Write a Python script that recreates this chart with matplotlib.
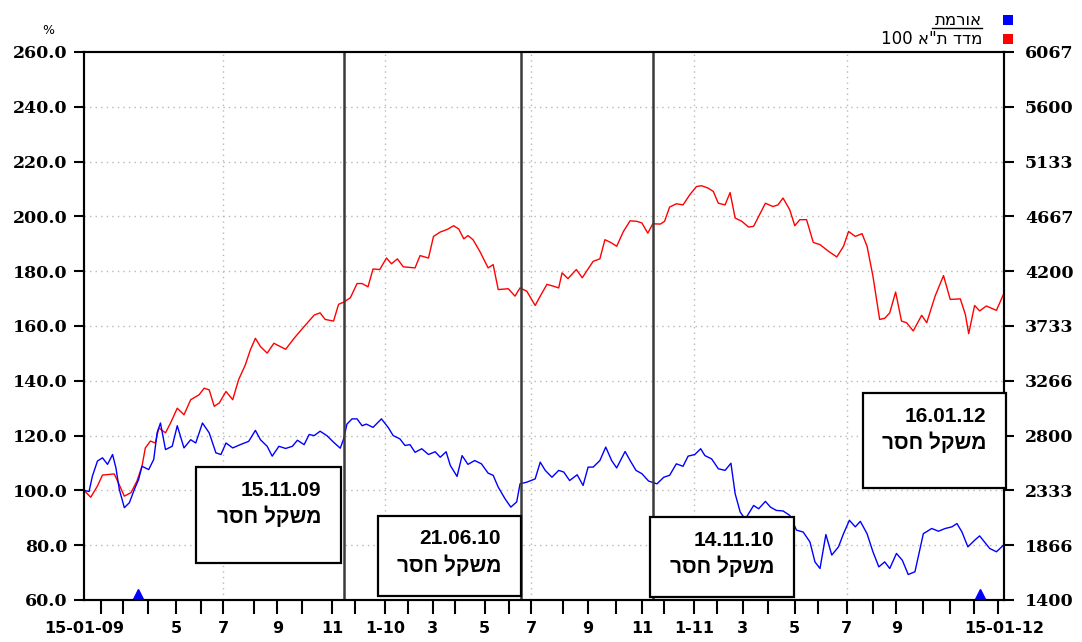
import re
import numpy as np
import matplotlib
matplotlib.use('Agg')
import matplotlib.pyplot as plt
from matplotlib.patches import Rectangle
from matplotlib.lines import Line2D

W, H = 1082, 642

# time axis of the chart: 0 = 15-01-09, 1095 = 15-01-12 (positions)
x_end = 1095

red_days = [0, 8, 16, 22, 36, 40, 48, 56, 63, 69, 73, 79, 85, 89, 97, 103, 111, 119, 127, 137,
            143, 149, 155, 161, 169, 177, 184, 192, 198, 204, 210, 218, 226, 240, 250, 262, 274,
            281, 287, 297, 303, 309, 317, 325, 331, 338, 344, 352, 360, 366, 373, 380, 394, 400, 410,
            416, 424, 432, 440, 446, 452, 457, 463, 471, 481, 487, 493, 505, 513, 519,
            527, 537, 543, 551, 559, 565, 569, 576, 586, 593, 602, 606, 614, 620, 628, 634, 642, 650,
            658, 664, 671, 677, 686, 691, 697, 705, 713, 721, 729, 735, 743, 749, 755, 763, 769, 775,
            783, 791, 797, 805,
            811, 820, 826, 832, 840, 846, 852, 860, 868, 876, 886, 896, 904, 910, 918, 926, 932, 939,
            947, 953, 959, 966, 973, 979, 987, 997, 1003, 1013, 1023, 1031, 1043, 1049, 1053, 1060,
            1066, 1074, 1086, 1095]
red_vals = [100, 97.5, 101.6, 105.6, 106, 103.4, 97.9, 99.2, 103.4, 108.8, 115.5, 118, 117.3, 122.8,
            121, 124.6, 130, 127.6, 133.1, 134.9, 137.3, 136.7, 130.7, 131.9, 136.1, 133.1, 140.4,
            145.8, 151.3, 155.5, 152.5, 150.1, 153.7, 151.5, 155.5, 159.8, 164,
            164.8, 162.4, 161.8, 167.9, 168.7, 170.3, 175.5, 175.5, 174.3, 180.8, 180.6, 184.8, 182.7,
            184.5, 181.6, 181.2, 185.7, 184.8, 192.7, 194.3, 195.2, 196.6, 195.4, 191.8, 193, 191.5,
            187.3, 181.2, 182.4, 173.3, 173.6, 170.9, 173.9,
            172.7, 167.5, 170.9, 175.2, 174.5, 173.9, 179.4, 177.3, 180.6, 177.6, 181.8, 183.6, 184.5,
            191.5, 190.3, 189.1, 194.5, 198.4, 198.2, 197.6, 193.9, 197.3, 197.2, 198.2, 203.4, 204.6,
            204.2, 207.9, 210.9, 211.2, 210.3, 209.1, 204.8, 204.2, 208.7, 199.4, 198.2, 196.1, 196.4,
            201.2,
            204.8, 203.6, 204.2, 206.7, 202.4, 196.6, 198.8, 198.8, 190.5, 189.7, 187.3, 185.2, 189.1,
            194.5, 192.7, 193.7, 189.1, 178.2, 162.4, 162.8, 164.8, 172.4, 161.8, 161.2, 158.2, 163.9,
            161.2, 170.9, 178.4, 169.7, 169.9, 164.2, 157.2, 167.5, 165.5, 167.3, 165.7, 172]

blue_days = [0, 6, 10, 16, 22, 28, 34, 38, 42, 48, 54, 60, 65, 69, 77, 83, 87, 91, 97, 105,
             111, 119, 127, 133, 141, 149, 157, 163, 169, 177, 186, 196, 204, 210, 218, 224, 232, 240,
             248, 254, 262, 268, 274,
             281, 289, 297, 305, 309, 313, 319, 325, 331, 336, 344, 354, 362, 368, 376, 382, 388, 394,
             402, 410, 418, 424, 431, 436, 444, 450, 457, 465, 473, 481, 487, 493, 501, 508, 515, 519,
             527, 537, 543, 549, 557, 565, 571, 578, 587, 594, 600, 606, 614, 621, 628, 634, 644, 650,
             657, 664, 672, 682, 690, 697, 705, 713, 719, 727, 734, 739, 747, 755, 763, 770, 775, 781,
             787, 797, 803,
             811, 817, 824, 832, 840, 848, 856, 864, 870, 876, 883, 890, 898, 904, 911, 918, 924, 932,
             939, 946, 953, 959, 967, 974, 981, 989, 999, 1009, 1017, 1025, 1033, 1039, 1045, 1052,
             1060, 1066, 1078, 1086, 1095]
blue_vals = [100, 99.6, 105.2, 110.7, 111.9, 109.5, 113.1, 108.2, 100.4, 93.7, 95.5, 100.4, 104, 108.8,
             107.6, 111.3, 121, 124.6, 114.9, 116.1, 123.6, 115.5, 118.5, 117.3, 124.6, 121, 113.7,
             113.1, 117.3, 115.5, 116.7, 117.9, 121.9, 118.5, 116.1, 112.5, 116.1, 115.3, 116.1, 118.3,
             116.7, 120.4, 120,
             121.6, 120, 117.6, 115.4, 118.8, 124.2, 126.1, 126.1, 123.6, 124.2, 123, 126.1, 123, 120,
             118.8, 116.4, 116.7, 113.9, 115.2, 113.1, 114.1, 112.1, 114.1, 109.1, 105.1, 112.7, 109.5,
             110.9, 109.7, 106.3, 105.5, 101.2, 97, 93.9, 95.8, 102.4,
             103, 104.2, 110.3, 107.3, 104.8, 107.3, 106.7, 103.6, 105.7, 101.8, 108.5, 108.5, 110.9,
             115.8, 110.9, 108.2, 114.2, 110.9, 107.3, 106.1, 103.4, 102.4, 104.8, 105.5, 109.7, 108.8,
             112.5, 113.1, 115.2, 112.7, 111.5, 107.9, 107.3, 109.9, 98.8, 92.1, 89.5, 94.5, 93.3,
             96, 93.9, 92.7, 92.5, 90.9, 85.5, 84.8, 81.2, 73.9, 71.5, 83.9, 76.4, 79.4, 84.2, 89.1,
             86.7, 88.7, 84.2, 77.6, 72.1, 73.9, 71.5, 77, 74.5, 69.3, 70.3, 84.2, 86.1, 85.1, 86.1,
             86.7, 87.9, 84.8, 79.4, 81.8, 83.4, 78.8, 77.6, 80.2]

marker_days = [64, 1066]
marker_vals = [62, 62]

# 15.11.09, 21.06.10, 14.11.10 on the chart's time axis
event_days = [309.5, 520, 677]
event_texts = ['15.11.09', '21.06.10', '14.11.10', '16.01.12']
event_note = 'משקל חסר'

# first of each month, Feb 2009 .. Jan 2012
month_days = [20, 46, 76, 110, 139, 166, 202, 230, 259, 295, 322, 358,
              386, 415, 442, 477, 506, 532, 570, 600, 633, 664, 690, 726,
              754, 784, 814, 846, 874, 908, 939, 967, 998, 1031, 1059, 1088]
grid_days = [166, 358, 532, 726, 908]
xtick_days = [0, 110, 166, 230, 295, 358, 415, 477, 532, 600, 664, 726, 784, 846, 908, 967, 1095]
xtick_labels = ['15-01-09', '5', '7', '9', '11', '1-10', '3', '5', '7', '9', '11', '1-11',
                '3', '5', '7', '9', '15-01-12']
left_ticks = [60, 80, 100, 120, 140, 160, 180, 200, 220, 240, 260]
right_labels = ['1400', '1866', '2333', '2800', '3266', '3733', '4200', '4667', '5133', '5600', '6067']

legend_names = ['אורמת', 'מדד ת"א 100']
legend_colors = ['#0000ff', '#ff0000']


def rtl(s):
    # matplotlib has no bidi: reverse hebrew runs, keep numbers as they are
    parts = re.split(r'(\d+)', s)
    parts = [p if p.isdigit() else p[::-1] for p in parts]
    return ''.join(parts[::-1])


def fx(x):
    return x / W


def fy(y):
    return 1 - y / H


fig = plt.figure(figsize=(W / 100, H / 100), dpi=100)
ax = fig.add_axes([fx(84), fy(600), (1004 - 84) / W, (600 - 52) / H])

ax.plot(red_days, red_vals, color='#ff0000', lw=1.0, zorder=3)
ax.plot(blue_days, blue_vals, color='#0000ff', lw=1.0, zorder=3)
ax.plot(marker_days, marker_vals, ls='none', marker='^', ms=8, color='#0000ff', zorder=3)

for d in event_days:
    ax.axvline(d, color='#3a3a3a', lw=1.8, zorder=4)
for d in grid_days:
    ax.axvline(d, color='#b8b8b8', lw=1, ls=(0, (1, 3)), zorder=1)
for v in left_ticks[1:-1]:
    ax.axhline(v, color='#b8b8b8', lw=1, ls=(0, (1, 3)), zorder=1)

ax.set_xlim(0, x_end)
ax.set_ylim(60, 260)

ax.set_xticks(month_days, minor=True)
ax.set_xticks(xtick_days)
ax.set_xticklabels(xtick_labels, fontsize=11.5, fontweight='bold', family='DejaVu Sans')
ax.xaxis.remove_overlapping_locs = False
ax.tick_params(axis='x', which='major', length=0, pad=15)
ax.tick_params(axis='x', which='minor', length=10, width=1.5)

ax.set_yticks(left_ticks)
ax.set_yticklabels(['%.1f' % v for v in left_ticks], fontsize=12.5, fontweight='bold',
                   family='DejaVu Serif')
ax.tick_params(axis='y', length=7, width=1.5, pad=5)

ax2 = ax.twinx()
ax2.set_ylim(60, 260)
ax2.set_yticks(left_ticks)
ax2.set_yticklabels(right_labels, fontsize=12.5, fontweight='bold', family='DejaVu Serif')
ax2.tick_params(axis='y', length=7, width=1.5, pad=8)

for a in (ax, ax2):
    for s in a.spines.values():
        s.set_linewidth(1.5)
        s.set_color('black')

# text boxes: left, top, right, bottom (pixels)
boxes = [(196, 467, 341, 563), (378, 516, 521, 596), (650, 517, 794, 597), (863, 393, 1006, 488)]
for (x0, y0, x1, y1), t in zip(boxes, event_texts):
    fig.add_artist(Rectangle((fx(x0), fy(y1)), (x1 - x0) / W, (y1 - y0) / H, transform=fig.transFigure,
                             facecolor='white', edgecolor='black', lw=1.6, zorder=5))
    fig.text(fx(x1 - 20), fy(y0 + 23), t, ha='right', va='center', fontsize=15, fontweight='bold',
             family=['Liberation Sans', 'DejaVu Sans'], zorder=6)
    fig.text(fx(x1 - 20), fy(y0 + 49), rtl(event_note), ha='right', va='center', fontsize=15,
             fontweight='bold', family=['Liberation Sans', 'DejaVu Sans'], zorder=6)

# legend at the top right
for i, (name, c) in enumerate(zip(legend_names, legend_colors)):
    yy = 20 + i * 19
    fig.text(fx(982), fy(yy), rtl(name), ha='right', va='center', fontsize=12,
             family=['DejaVu Sans'])
    fig.add_artist(Rectangle((fx(1003), fy(yy + 5)), 10 / W, 10 / H, transform=fig.transFigure,
                             facecolor=c, edgecolor='none'))
fig.add_artist(Line2D([fx(932), fx(982)], [fy(28), fy(28)], transform=fig.transFigure,
                      color='black', lw=1))

fig.text(fx(48), fy(30), '%', ha='center', va='center', fontsize=9)

fig.savefig('out.png', dpi=100)
